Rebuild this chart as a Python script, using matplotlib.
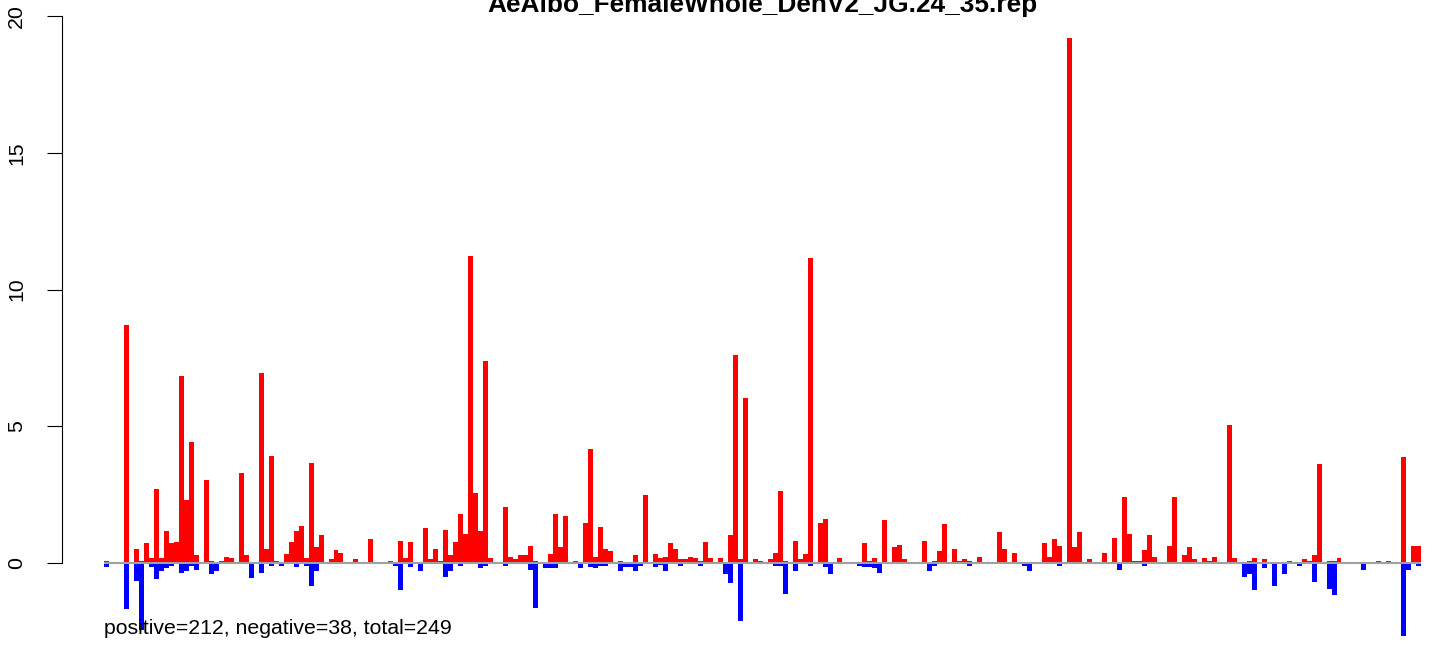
import numpy as np
import matplotlib
matplotlib.use("Agg")
import matplotlib.pyplot as plt

plt.rcParams['font.family'] = ['Liberation Sans', 'DejaVu Sans']

title = "AeAlbo_FemaleWhole_DenV2_JG.24_35.rep"
summary = "positive=212, negative=38, total=249"

# positive scores (red bars), one per position
pos = [
    0.07, 0, 0, 0.03, 8.70, 0.03, 0.51, 0.07, 0.73, 0.2,
    2.7, 0.2, 1.17, 0.73, 0.77, 6.84, 2.3, 4.42, 0.3, 0,
    3.05, 0.07, 0, 0.07, 0.22, 0.18, 0, 3.3, 0.3, 0.04,
    0, 6.95, 0.51, 3.92, 0.07, 0.04, 0.33, 0.77, 1.17, 1.35,
    0.18, 3.64, 0.6, 1.02, 0.04, 0.15, 0.48, 0.37, 0, 0.04,
    0.15, 0, 0, 0.88, 0, 0, 0, 0.07, 0.04, 0.8,
    0.18, 0.77, 0.04, 0.04, 1.28, 0.15, 0.51, 0.07, 1.2, 0.3,
    0.77, 1.79, 1.06, 11.22, 2.56, 1.17, 7.39, 0.18, 0, 0,
    2.05, 0.22, 0.15, 0.3, 0.3, 0.62, 0.07, 0, 0, 0.33,
    1.79, 0.59, 1.72, 0, 0.07, 0.04, 1.46, 4.17, 0.22, 1.32,
    0.51, 0.44, 0.04, 0.07, 0, 0, 0.3, 0, 2.49, 0.04,
    0.33, 0.18, 0.22, 0.73, 0.51, 0.15, 0.15, 0.22, 0.18, 0.07,
    0.77, 0.18, 0, 0.18, 0.04, 1.02, 7.6, 0.15, 6.03, 0.04,
    0.15, 0.07, 0, 0.15, 0.37, 2.63, 0.07, 0, 0.8, 0.15,
    0.33, 11.15, 0, 1.46, 1.61, 0.04, 0.04, 0.18, 0, 0,
    0, 0.04, 0.73, 0.07, 0.18, 0, 1.57, 0.04, 0.59, 0.66,
    0.15, 0, 0, 0, 0.8, 0, 0.07, 0.44, 1.43, 0,
    0.51, 0.07, 0.15, 0.07, 0.04, 0.22, 0.04, 0.04, 0.04, 1.13,
    0.51, 0.04, 0.37, 0, 0.04, 0.04, 0, 0, 0.73, 0.22,
    0.88, 0.62, 0.04, 19.2, 0.59, 1.13, 0.04, 0.15, 0, 0,
    0.37, 0, 0.91, 0.04, 2.41, 1.06, 0.07, 0.07, 0.48, 1.02,
    0.22, 0, 0, 0.62, 2.41, 0, 0.3, 0.59, 0.15, 0.04,
    0.18, 0.07, 0.22, 0, 0.04, 5.05, 0.18, 0, 0, 0.07,
    0.18, 0, 0.15, 0, 0.04, 0, 0, 0.07, 0, 0,
    0.15, 0.07, 0.3, 3.62, 0, 0.07, 0.07, 0.18, 0, 0,
    0, 0.04, 0.04, 0, 0, 0.07, 0.04, 0.07, 0, 0,
    3.88, 0, 0.62, 0.62,
]

# negative scores (blue bars)
neg = [
    -0.13, 0, 0, -0.03, -1.68, 0, -0.65, -2.45, 0, -0.13,
    -0.57, -0.28, -0.17, -0.12, 0, -0.37, -0.3, -0.1, -0.25, -0.04,
    0, -0.4, -0.3, 0, 0, 0, 0, -0.03, -0.03, -0.54,
    0, -0.36, -0.05, -0.1, -0.03, -0.1, 0, 0, -0.14, 0,
    -0.1, -0.83, -0.28, -0.03, 0, 0, 0, 0, 0, -0.03,
    0, 0, 0, -0.05, 0, 0, 0, 0, -0.1, -1.0,
    0, -0.14, 0, -0.28, 0, 0, 0, 0, -0.5, -0.28,
    0, -0.1, 0, -0.03, 0, -0.17, -0.1, 0, 0, 0,
    -0.1, 0, -0.03, 0, 0, -0.24, -1.64, -0.03, -0.17, -0.17,
    -0.17, 0, 0, -0.03, 0, -0.17, 0, -0.14, -0.17, -0.1,
    -0.1, 0, -0.03, -0.28, -0.14, -0.14, -0.28, -0.1, 0, 0,
    -0.14, -0.08, -0.28, 0, 0, -0.1, -0.03, 0, 0, -0.1,
    0, 0, -0.03, -0.03, -0.4, -0.72, 0, -2.12, 0, -0.03,
    0, 0, 0, 0, -0.1, -0.1, -1.12, 0, -0.28, 0,
    -0.03, -0.1, 0, 0, -0.14, -0.4, -0.03, 0, 0, -0.03,
    0, -0.1, -0.14, -0.14, -0.17, -0.35, 0, 0, -0.03, 0,
    0, 0, -0.03, -0.03, 0, -0.28, -0.1, -0.03, -0.03, -0.03,
    0, -0.03, 0, -0.1, -0.03, -0.03, 0, 0, 0, 0,
    0, 0, 0, 0, -0.1, -0.28, 0, -0.03, 0, -0.03,
    0, -0.1, -0.03, -0.03, 0, 0, 0, 0, -0.03, 0,
    0, -0.03, 0, -0.24, 0, 0, 0, 0, -0.1, 0,
    0, 0, -0.03, 0, 0, 0, 0, 0, 0, 0,
    0, 0, -0.03, 0, 0, 0, 0, 0, -0.5, -0.4,
    -0.98, -0.03, -0.17, 0, -0.83, 0, -0.4, -0.03, 0, -0.1,
    0, 0, -0.68, 0, -0.03, -0.94, -1.16, -0.03, 0, 0,
    0, -0.03, -0.24, 0, -0.03, 0, 0, -0.03, 0, 0,
    -2.65, -0.24, 0, -0.1,
]

yticks = [0, 5, 10, 15, 20]

n = len(pos)
x = np.arange(n)

fig = plt.figure(figsize=(14.44, 6.45), dpi=100)
ax = fig.add_axes([0.0355, -0.0222, 0.9853, 1.0003])

ax.bar(x, pos, width=1, align='edge', color='#FF0000', linewidth=0, antialiased=False)
ax.bar(x, neg, width=1, align='edge', color='#0000FF', linewidth=0, antialiased=False)
ax.hlines(0, 0, n, color='#A0A0A0', linewidth=1.5, zorder=3)

ax.set_xlim(-0.04 * n, 1.04 * n)
ax.set_ylim(-3.52, 20.07)

for s in ['top', 'right', 'bottom']:
    ax.spines[s].set_visible(False)
ax.spines['left'].set_bounds(0, 20)
ax.spines['left'].set_position(('data', -8.4))
ax.spines['left'].set_linewidth(0.8)
ax.set_xticks([])
ax.set_yticks(yticks)
ax.set_yticklabels([str(t) for t in yticks], rotation=90, va='center')
ax.tick_params(axis='y', length=11, width=0.8, pad=15, labelsize=15.3)

ax.text(0, -2.38, summary, fontsize=15.3, ha='left', va='center', zorder=4)

fig.text((51.3 + 1474) / 2 / 1444, 1 - 12 / 645, title, ha='center', va='baseline',
         fontsize=18.9, fontweight='bold')

fig.savefig("out.png", dpi=100)
